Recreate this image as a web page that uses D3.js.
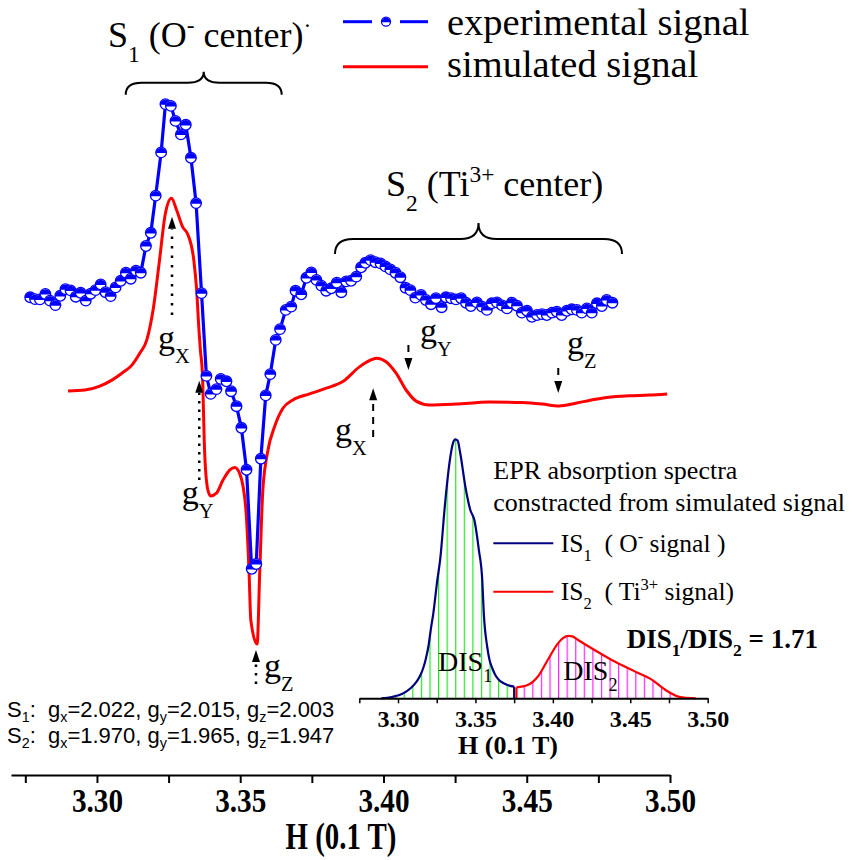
<!DOCTYPE html>
<html>
<head>
<meta charset="utf-8">
<script src="https://cdn.jsdelivr.net/npm/d3@7"></script>
<style>
  html, body { margin: 0; padding: 0; background: #fff; }
  svg { display: block; }
  text { white-space: pre; }
</style>
</head>
<body>
<svg id="chart" width="854" height="860"></svg>
<script>
// ---- Experimental EPR derivative signal: field H (0.1 T) and intensity (a.u.) ----
const expField = [3.2767,3.2784,3.2801,3.2820,3.2836,3.2855,3.2872,3.2890,3.2908,3.2926,
  3.2943,3.2961,3.2978,3.2995,3.3013,3.3030,3.3048,3.3065,3.3083,3.3101,
  3.3118,3.3136,3.3153,3.3171,3.3188,3.3205,3.3224,3.3239,3.3258,3.3274,
  3.3293,3.3310,3.3328,3.3346,3.3365,3.3382,3.3397,3.3417,3.3432,3.3452,
  3.3468,3.3487,3.3504,3.3522,3.3540,3.3556,3.3572,3.3589,3.3605,3.3624,
  3.3639,3.3659,3.3678,3.3693,3.3713,3.3731,3.3748,3.3766,3.3783,3.3800,
  3.3818,3.3837,3.3853,3.3870,3.3887,3.3905,3.3922,3.3937,3.3955,3.3972,
  3.3990,3.4007,3.4024,3.4042,3.4059,3.4077,3.4094,3.4111,3.4131,3.4148,
  3.4166,3.4183,3.4203,3.4218,3.4236,3.4253,3.4271,3.4288,3.4305,3.4326,
  3.4344,3.4361,3.4378,3.4396,3.4414,3.4431,3.4448,3.4466,3.4483,3.4501,
  3.4518,3.4536,3.4553,3.4570,3.4588,3.4605,3.4622,3.4640,3.4657,3.4675,
  3.4692,3.4710,3.4727,3.4745,3.4762,3.4779,3.4799];
const expSignal = [30.9,30.3,30.2,32.0,29.8,28.3,31.4,33.6,33.2,31.1,
  32.4,29.8,32.1,33.3,35.2,32.6,31.3,34.2,36.4,39.1,
  37.1,39.8,39.1,48.0,52.4,64.8,79.2,95.3,94.7,89.7,
  85.2,88.4,77.4,62.3,32.3,4.7,-1.3,0.3,3.7,2.9,
  -0.4,-5.4,-12.6,-26.6,-59.6,-58.0,-22.9,-1.8,5.3,16.7,
  20.3,26.7,27.8,33.1,31.9,37.4,39.2,36.7,34.8,33.1,
  33.9,35.8,32.6,36.2,36.4,37.8,40.9,42.4,43.3,42.6,
  42.2,41.2,40.2,39.1,37.6,34.1,33.3,30.8,31.7,30.0,
  28.6,30.6,27.6,30.9,30.6,30.2,30.6,29.1,28.0,29.2,
  27.8,26.7,28.9,29.2,28.2,27.2,29.1,28.1,25.8,26.4,
  24.4,25.0,25.3,25.0,25.8,26.1,25.0,26.4,26.9,26.7,
  25.8,27.2,25.8,28.9,28.0,30.0,29.1];

// ---- Simulated derivative signal ----
const simField = [3.2899,3.2958,3.3010,3.3052,3.3087,3.3122,3.3150,3.3174,3.3197,3.3217,
  3.3239,3.3260,3.3278,3.3299,3.3318,3.3338,3.3348,3.3356,3.3361,3.3368,
  3.3376,3.3387,3.3397,3.3417,3.3440,3.3463,3.3481,3.3498,3.3519,3.3531,
  3.3537,3.3559,3.3568,3.3579,3.3597,3.3620,3.3649,3.3684,3.3742,3.3800,
  3.3858,3.3916,3.3951,3.3976,3.4009,3.4044,3.4079,3.4114,3.4160,3.4253,
  3.4369,3.4485,3.4555,3.4613,3.4671,3.4741,3.4811,3.4857,3.4927,3.4990];
const simSignal = [-0.3,0,1.3,3.3,5.6,8.3,12.3,16.7,27.3,42.2,
  58.9,63.9,60.0,54.4,51.7,43.3,33.3,20.0,13.3,5.6,
  -21.1,-33.3,-35.3,-34.4,-30.0,-26.7,-25.8,-27.8,-38.9,-61.1,
  -76.7,-84.7,-61.1,-33.3,-20.0,-12.2,-6.1,-3.3,-1.3,0.6,
  2.8,7.7,9.8,10.6,9.4,5.6,0,-3.7,-5.0,-4.7,
  -4.0,-4.2,-4.7,-5.3,-4.4,-3.1,-2.2,-1.9,-1.7,-1.3];

// ---- Absorption spectra integrated from the simulated signal (normalised) ----
const is1Field = [3.2892,3.2959,3.3033,3.3083,3.3120,3.3145,3.3163,3.3181,3.3196,3.3213,
  3.3228,3.3254,3.3272,3.3304,3.3332,3.3355,3.3370,3.3385,3.3402,3.3435,
  3.3467,3.3493,3.3522,3.3544,3.3554,3.3576,3.3591,3.3609,3.3630,3.3652,
  3.3679,3.3707,3.3750];
const is1Value = [0,0.005,0.019,0.040,0.064,0.090,0.117,0.156,0.199,0.271,
  0.328,0.457,0.534,0.753,0.907,0.985,1.0,0.995,0.946,0.817,
  0.727,0.688,0.573,0.457,0.328,0.199,0.148,0.116,0.088,0.071,
  0.059,0.051,0.045];
const is2Field = [3.3765,3.3837,3.3902,3.3967,3.4033,3.4067,3.4098,3.4126,3.4163,3.4250,
  3.4380,3.4532,3.4641,3.4728,3.4815,3.4923];
const is2Value = [0.042,0.051,0.083,0.148,0.212,0.233,0.241,0.239,0.225,0.193,
  0.148,0.103,0.071,0.032,0.006,0];

// ---- Axis ticks ----
const mainTicks = [3.275,3.30,3.325,3.35,3.375,3.40,3.425,3.45,3.475,3.50];
const mainTickLabels = ["","3.30","","3.35","","3.40","","3.45","","3.50"];
const insetTicks = [3.275,3.30,3.325,3.35,3.375,3.40,3.425,3.45,3.475,3.50];
const insetTickLabels = ["","3.30","","3.35","","3.40","","3.45","","3.50"];

// ---- g-factor field positions marked on the spectrum ----
const gS1Fields = [3.3262, 3.3357, 3.3555];   // gX, gY, gZ of S1
const gS2Fields = [3.3964, 3.4087, 3.4610];   // gX, gY, gZ of S2

const BLUE = "#0000ff", RED = "#ff0000", NAVY = "#000080";
const SERIF = "'Liberation Serif', 'Times New Roman', serif";
const SANS = "'Liberation Sans', Arial, sans-serif";

const svg = d3.select("#chart");
const defs = svg.append("defs");

// scales
const x = d3.scaleLinear().domain([3.27, 3.50]).range([11, 670]);
const y = d3.scaleLinear().domain([0, 100]).range([390, 90]);
const xi = d3.scaleLinear().domain([3.275, 3.50]).range([359.3, 707.7]);
const yi = d3.scaleLinear().domain([0, 1]).range([698.3, 439.3]);

// text with sub/superscript parts: [string, kind] kind = "" | "sub" | "sup"
function rich(g, px, py, parts, o) {
  const size = o.size;
  const t = g.append("text").attr("x", px).attr("y", py)
    .attr("font-family", o.family || SERIF)
    .attr("font-size", size)
    .attr("font-weight", o.weight || "normal")
    .attr("text-anchor", o.anchor || "start")
    .attr("fill", "#000");
  let off = 0;
  parts.forEach(([s, k]) => {
    const target = k === "sub" ? (o.subShift ?? size * 0.35)
                 : k === "sup" ? -(o.supShift ?? size * 0.38) : 0;
    const fs = k ? size * (o.smallScale || 0.6) : size;
    t.append("tspan").attr("dy", target - off).attr("font-size", fs).text(s);
    off = target;
  });
  return t;
}

// curly brace opening downward with a tip pointing up
function brace(x1, x2, yLine, endDrop, tipRise, r) {
  const xm = (x1 + x2) / 2;
  const p = `M${x1},${yLine + endDrop} Q${x1},${yLine} ${x1 + r},${yLine} L${xm - r},${yLine}` +
    ` Q${xm},${yLine} ${xm},${yLine - tipRise} Q${xm},${yLine} ${xm + r},${yLine}` +
    ` L${x2 - r},${yLine} Q${x2},${yLine} ${x2},${yLine + endDrop}`;
  svg.append("path").attr("d", p).attr("fill", "none").attr("stroke", "#000").attr("stroke-width", 2);
}

// vertical arrow with a triangular head
function arrow(px, yFrom, yTip, dash, width) {
  const dir = yTip < yFrom ? 1 : -1;          // 1 = pointing up
  const base = yTip + dir * 12;
  svg.append("line").attr("x1", px).attr("x2", px).attr("y1", yFrom).attr("y2", base)
    .attr("stroke", "#000").attr("stroke-width", width).attr("stroke-dasharray", dash);
  svg.append("path").attr("d", `M${px - 4},${base} L${px + 4},${base} L${px},${yTip} Z`).attr("fill", "#000");
}

// ---------------- main spectrum ----------------
const simData = simField.map((f, i) => [f, simSignal[i]]);
const expData = expField.map((f, i) => [f, expSignal[i]]);

svg.append("path").datum(simData)
  .attr("d", d3.line().x(d => x(d[0])).y(d => y(d[1])).curve(d3.curveMonotoneX))
  .attr("fill", "none").attr("stroke", RED).attr("stroke-width", 3).attr("stroke-linejoin", "round");

svg.append("path").datum(expData)
  .attr("d", d3.line().x(d => x(d[0])).y(d => y(d[1])))
  .attr("fill", "none").attr("stroke", BLUE).attr("stroke-width", 3.2).attr("stroke-linejoin", "round");

function halfMarker(g, r) {
  g.append("circle").attr("r", r).attr("fill", "#fff").attr("stroke", BLUE).attr("stroke-width", 1.3);
  g.append("path").attr("d", `M${-r},0.6 A${r},${r} 0 0 1 ${r},0.6 Z`).attr("fill", BLUE);
}
svg.append("g").selectAll("g").data(expData).join("g")
  .attr("transform", d => `translate(${x(d[0])},${y(d[1])})`)
  .each(function () { halfMarker(d3.select(this), 5.3); });

// main x axis
const ax = svg.append("g").attr("transform", "translate(0,775)")
  .call(d3.axisBottom(x).tickValues(mainTicks).tickSize(8).tickSizeOuter(0)
    .tickFormat((d, i) => mainTickLabels[i]));
ax.select(".domain").attr("stroke-width", 2);
ax.selectAll(".tick line").attr("stroke-width", 2);
ax.selectAll(".tick text").attr("font-family", SERIF).attr("font-weight", "bold")
  .attr("font-size", 34).attr("fill", "#000").attr("y", 37).attr("dy", 0)
  .attr("transform", "scale(0.86,1)");
svg.append("text").attr("transform", "translate(341,849) scale(0.76,1)")
  .attr("text-anchor", "middle").attr("font-family", SERIF).attr("font-weight", "bold")
  .attr("font-size", 38).text("H (0.1 T)");

// ---------------- legend ----------------
svg.append("line").attr("x1", 343).attr("x2", 372).attr("y1", 21.7).attr("y2", 21.7)
  .attr("stroke", BLUE).attr("stroke-width", 3);
svg.append("line").attr("x1", 400).attr("x2", 428).attr("y1", 21.7).attr("y2", 21.7)
  .attr("stroke", BLUE).attr("stroke-width", 3);
halfMarker(svg.append("g").attr("transform", "translate(386,21.7)"), 4.5);
svg.append("text").attr("x", 447).attr("y", 35).attr("font-family", SERIF).attr("font-size", 38.5)
  .text("experimental signal");
svg.append("line").attr("x1", 343).attr("x2", 428).attr("y1", 66.7).attr("y2", 66.7)
  .attr("stroke", RED).attr("stroke-width", 3);
svg.append("text").attr("x", 447).attr("y", 77).attr("font-family", SERIF).attr("font-size", 38.5)
  .text("simulated signal");

// ---------------- centre labels and braces ----------------
rich(svg, 108, 47, [["S", ""], ["1", "sub"], [" (O", ""], ["-", "sup"], [" center)", ""], ["\u00b7", "sup"]],
  { size: 36, subShift: 15, supShift: 14, smallScale: 0.65 });
brace(125.7, 281.7, 82.7, 12, 11, 16);

rich(svg, 386, 196, [["S", ""], ["2", "sub"], [" (Ti", ""], ["3+", "sup"], [" center)", ""]],
  { size: 36, subShift: 15, supShift: 14, smallScale: 0.65 });
brace(335, 622, 239, 15, 16, 18);

// g markers for S1 (dotted arrows pointing up)
arrow(x(gS1Fields[0]), 315, 216.7, "2.5,7", 2.5);
arrow(x(gS1Fields[1]), 480, 380.7, "2.5,6", 2.5);
arrow(x(gS1Fields[2]), 684, 650, "2.5,6", 2.5);
// g markers for S2 (dashed arrows)
arrow(x(gS2Fields[0]), 437, 388.3, "7,6", 2);
arrow(x(gS2Fields[1]), 345, 370, "7,6", 2);
arrow(x(gS2Fields[2]), 368, 393, "7,6", 2);

const gOpt = { size: 34, subShift: 14, smallScale: 0.6 };
rich(svg, 158, 349, [["g", ""], ["X", "sub"]], gOpt);
rich(svg, 181.7, 504, [["g", ""], ["Y", "sub"]], gOpt);
rich(svg, 264, 677, [["g", ""], ["Z", "sub"]], gOpt);
rich(svg, 335, 441, [["g", ""], ["X", "sub"]], gOpt);
rich(svg, 420, 342, [["g", ""], ["Y", "sub"]], gOpt);
rich(svg, 567, 354, [["g", ""], ["Z", "sub"]], gOpt);

// g-value summary
const sOpt = { size: 22, family: SANS, subShift: 5, smallScale: 0.65 };
rich(svg, 7, 716.7, [["S", ""], ["1", "sub"], [":  g", ""], ["x", "sub"], ["=2.022, g", ""], ["y", "sub"],
  ["=2.015, g", ""], ["z", "sub"], ["=2.003", ""]], sOpt);
rich(svg, 7, 743, [["S", ""], ["2", "sub"], [":  g", ""], ["x", "sub"], ["=1.970, g", ""], ["y", "sub"],
  ["=1.965, g", ""], ["z", "sub"], ["=1.947", ""]], sOpt);

// ---------------- inset: absorption spectra ----------------
function hatch(id, color, x0) {
  const p = defs.append("pattern").attr("id", id).attr("patternUnits", "userSpaceOnUse")
    .attr("x", x0 - 0.6).attr("y", 0).attr("width", 8.58).attr("height", 860);
  p.append("line").attr("x1", 0.6).attr("x2", 0.6).attr("y1", 0).attr("y2", 860)
    .attr("stroke", color).attr("stroke-width", 1.2);
}
hatch("hatchS1", "#22e622", 404.3);
hatch("hatchS2", "#ff22ff", 524.3);

const is1Data = is1Field.map((f, i) => [f, is1Value[i]]);
const is2Data = is2Field.map((f, i) => [f, is2Value[i]]);
const areaGen = d3.area().x(d => xi(d[0])).y0(yi(0)).y1(d => yi(d[1])).curve(d3.curveMonotoneX);
const lineGen = d3.line().x(d => xi(d[0])).y(d => yi(d[1])).curve(d3.curveMonotoneX);

svg.append("path").datum(is1Data).attr("d", areaGen).attr("fill", "url(#hatchS1)");
svg.append("path").datum(is2Data).attr("d", areaGen).attr("fill", "url(#hatchS2)");

const is1Last = is1Data[is1Data.length - 1];
svg.append("path").datum(is1Data).attr("d", lineGen).attr("fill", "none").attr("stroke", NAVY).attr("stroke-width", 2.2);
svg.append("line").attr("x1", xi(is1Last[0])).attr("x2", xi(is1Last[0]))
  .attr("y1", yi(is1Last[1])).attr("y2", yi(0)).attr("stroke", NAVY).attr("stroke-width", 2.2);
const is2First = is2Data[0];
svg.append("path").datum(is2Data).attr("d", lineGen).attr("fill", "none").attr("stroke", RED).attr("stroke-width", 2.2);
svg.append("line").attr("x1", xi(is2First[0])).attr("x2", xi(is2First[0]))
  .attr("y1", yi(is2First[1])).attr("y2", yi(0)).attr("stroke", RED).attr("stroke-width", 2.2);

const axi = svg.append("g").attr("transform", `translate(0,${yi(0)})`)
  .call(d3.axisBottom(xi).tickValues(insetTicks).tickSize(5).tickSizeOuter(0)
    .tickFormat((d, i) => insetTickLabels[i]));
axi.select(".domain").attr("stroke-width", 2);
axi.selectAll(".tick line").attr("stroke-width", 1.5);
axi.selectAll(".tick text").attr("font-family", SERIF).attr("font-weight", "bold")
  .attr("font-size", 24).attr("fill", "#000").attr("y", 28.4).attr("dy", 0);
svg.append("text").attr("x", 508).attr("y", 754).attr("text-anchor", "middle")
  .attr("font-family", SERIF).attr("font-weight", "bold").attr("font-size", 26).text("H (0.1 T)");

rich(svg, 438, 670.7, [["DIS", ""], ["1", "sub"]], { size: 28, subShift: 11, smallScale: 0.65 });
rich(svg, 563.3, 680, [["DIS", ""], ["2", "sub"]], { size: 28, subShift: 11, smallScale: 0.65 });

// inset legend
svg.append("text").attr("x", 493.3).attr("y", 479.3).attr("font-family", SERIF).attr("font-size", 26)
  .text("EPR absorption spectra");
svg.append("text").attr("x", 493.3).attr("y", 510.7).attr("font-family", SERIF).attr("font-size", 26)
  .text("constracted from simulated signal");
svg.append("line").attr("x1", 493.3).attr("x2", 553.3).attr("y1", 543.3).attr("y2", 543.3)
  .attr("stroke", NAVY).attr("stroke-width", 2);
rich(svg, 560.7, 551.7, [["IS", ""], ["1", "sub"], ["  ( O", ""], ["-", "sup"], [" signal )", ""]],
  { size: 25.5, subShift: 9, supShift: 10, smallScale: 0.65 });
svg.append("line").attr("x1", 493.3).attr("x2", 553.3).attr("y1", 591.7).attr("y2", 591.7)
  .attr("stroke", RED).attr("stroke-width", 2);
rich(svg, 560.7, 600, [["IS", ""], ["2", "sub"], ["  ( Ti", ""], ["3+", "sup"], [" signal)", ""]],
  { size: 25.5, subShift: 9, supShift: 10, smallScale: 0.65 });

rich(svg, 626.7, 648.3, [["DIS", ""], ["1", "sub"], ["/DIS", ""], ["2", "sub"], [" = 1.71", ""]],
  { size: 27, weight: "bold", subShift: 8, smallScale: 0.65 });
</script>
</body>
</html>
